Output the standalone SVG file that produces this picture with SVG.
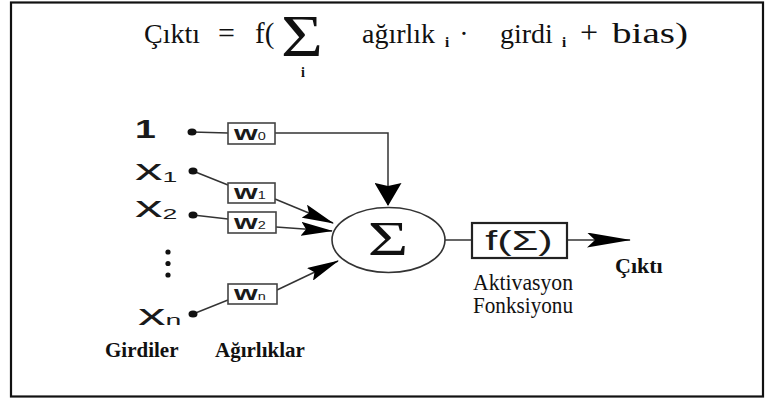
<svg xmlns="http://www.w3.org/2000/svg" width="766" height="399" viewBox="0 0 766 399">
<style>
.frame{fill:#fff;stroke:#111;stroke-width:2.2}
.box{fill:#fff;stroke:#444;stroke-width:1.6}
.ln{fill:none;stroke:#333;stroke-width:1.5}
.dot{fill:#111}
.ahf{fill:#000}
</style>
<defs>
<marker id="ahDiag" markerUnits="userSpaceOnUse" markerWidth="32" markerHeight="14" viewBox="0 0 32 14" refX="31" refY="7" orient="auto"><path class="ahf" d="M0,0 L32,7 L0,14 L5,7 z"/></marker>
<marker id="ahDown" markerUnits="userSpaceOnUse" markerWidth="23" markerHeight="27" viewBox="0 0 23 27" refX="22" refY="13.5" orient="auto"><path class="ahf" d="M0,0 L23,13.5 L0,27 L3,13.5 z"/></marker>
<marker id="ahOut" markerUnits="userSpaceOnUse" markerWidth="44" markerHeight="15" viewBox="0 0 44 15" refX="43" refY="7.5" orient="auto"><path class="ahf" d="M0,0 L44,7.5 L0,15 L8,7.5 z"/></marker>
</defs>
<rect class="frame" x="11" y="2.5" width="752" height="394"/>

<g id="formula" font-family="Liberation Serif, serif" fill="#111">
<text x="144" y="43" font-size="28">Çıktı</text>
<text x="218" y="43" font-size="30">=</text>
<text x="255" y="43" font-size="29">f(</text>
<text transform="translate(281,56) scale(1.2,1)" font-size="60">Σ</text>
<text x="303" y="77" font-size="14" font-weight="bold" text-anchor="middle">i</text>
<text x="362" y="43" font-size="28">ağırlık</text>
<text x="445" y="47" font-size="15" font-weight="bold">i</text>
<text x="464" y="43" font-size="28" text-anchor="middle">·</text>
<text x="500" y="43" font-size="28">girdi</text>
<text x="562" y="47" font-size="15" font-weight="bold">i</text>
<text x="580" y="43" font-size="32">+</text>
<text x="612" y="43" font-size="29" textLength="76" lengthAdjust="spacingAndGlyphs">bias)</text>
</g>

<g id="connectors">
<line class="ln" x1="192" y1="132" x2="228" y2="133"/>
<polyline class="ln" points="275,133 388,133 388,205" marker-end="url(#ahDown)"/>
<line class="ln" x1="193" y1="171" x2="228" y2="185"/>
<line class="ln" x1="275" y1="199" x2="333" y2="223" marker-end="url(#ahDiag)"/>
<line class="ln" x1="193" y1="215" x2="228" y2="219"/>
<line class="ln" x1="276" y1="227" x2="332" y2="231" marker-end="url(#ahDiag)"/>
<line class="ln" x1="193" y1="314" x2="228" y2="300"/>
<line class="ln" x1="277" y1="290" x2="338" y2="261" marker-end="url(#ahDiag)"/>
<line class="ln" x1="445" y1="240" x2="472" y2="240"/>
<line class="ln" x1="567" y1="240" x2="630" y2="240" marker-end="url(#ahOut)"/>
</g>

<g id="input-1" font-family="Liberation Sans, sans-serif" fill="#1a1a1a">
<text transform="translate(135,138) scale(1.5,1)" font-size="25" font-weight="bold">1</text>
<ellipse class="dot" cx="192" cy="132" rx="4.5" ry="3.5"/>
</g>
<g id="input-x1" font-family="Liberation Sans, sans-serif" fill="#1a1a1a">
<text transform="translate(135,180) scale(1.9,1)" font-size="29">x<tspan font-size="14" dy="2">1</tspan></text>
<ellipse class="dot" cx="193" cy="171" rx="4.5" ry="3.5"/>
</g>
<g id="input-x2" font-family="Liberation Sans, sans-serif" fill="#1a1a1a">
<text transform="translate(135,217) scale(1.9,1)" font-size="29">x<tspan font-size="14" dy="2">2</tspan></text>
<ellipse class="dot" cx="193" cy="215" rx="4.5" ry="3.5"/>
</g>
<g id="input-dots">
<circle class="dot" cx="168" cy="252" r="2.6"/>
<circle class="dot" cx="168" cy="263.5" r="2.6"/>
<circle class="dot" cx="168" cy="275" r="2.6"/>
</g>
<g id="input-xn" font-family="Liberation Sans, sans-serif" fill="#1a1a1a">
<text transform="translate(138,325) scale(1.9,1)" font-size="29">x<tspan font-size="15">n</tspan></text>
<ellipse class="dot" cx="193" cy="314" rx="4.5" ry="3.5"/>
</g>

<g id="weight-w0" font-family="Liberation Sans, sans-serif" fill="#1a1a1a">
<rect class="box" x="228" y="123" width="47" height="21"/>
<text transform="translate(234,140) scale(1.45,1)" font-size="21" font-weight="bold">w<tspan font-size="10" font-weight="normal">0</tspan></text>
</g>
<g id="weight-w1" font-family="Liberation Sans, sans-serif" fill="#1a1a1a">
<rect class="box" x="228" y="183" width="47" height="20"/>
<text transform="translate(234,199) scale(1.45,1)" font-size="21" font-weight="bold">w<tspan font-size="10" font-weight="normal">1</tspan></text>
</g>
<g id="weight-w2" font-family="Liberation Sans, sans-serif" fill="#1a1a1a">
<rect class="box" x="228" y="212" width="48" height="21"/>
<text transform="translate(234,229) scale(1.45,1)" font-size="21" font-weight="bold">w<tspan font-size="10" font-weight="normal">2</tspan></text>
</g>
<g id="weight-wn" font-family="Liberation Sans, sans-serif" fill="#1a1a1a">
<rect class="box" x="228" y="284" width="49" height="20"/>
<text transform="translate(234,300) scale(1.45,1)" font-size="21" font-weight="bold">w<tspan font-size="10" font-weight="normal">n</tspan></text>
</g>

<g id="sum">
<ellipse cx="388.5" cy="240" rx="56.5" ry="32.5" fill="#fff" stroke="#333" stroke-width="1.6"/>
<text transform="translate(388,255) scale(1.45,1)" font-family="Liberation Serif, serif" font-size="48" text-anchor="middle" fill="#111">Σ</text>
</g>

<g id="activation">
<rect x="472" y="223" width="95" height="35" fill="#fff" stroke="#222" stroke-width="2.2"/>
<text transform="translate(519,250) scale(1.6,1)" font-family="Liberation Sans, sans-serif" font-size="27" text-anchor="middle" fill="#1a1a1a">f(Σ)</text>
<text x="473" y="290" font-family="Liberation Serif, serif" font-size="23" fill="#111" textLength="100" lengthAdjust="spacingAndGlyphs">Aktivasyon</text>
<text x="473" y="313" font-family="Liberation Serif, serif" font-size="23" fill="#111" textLength="100" lengthAdjust="spacingAndGlyphs">Fonksiyonu</text>
</g>

<g id="output">
<text x="615" y="273" font-family="Liberation Serif, serif" font-weight="bold" font-size="22" fill="#111">Çıktı</text>
</g>

<g id="labels" font-family="Liberation Serif, serif" font-weight="bold" fill="#111">
<text x="105" y="357" font-size="21">Girdiler</text>
<text x="215" y="357" font-size="21">Ağırlıklar</text>
</g>
</svg>
